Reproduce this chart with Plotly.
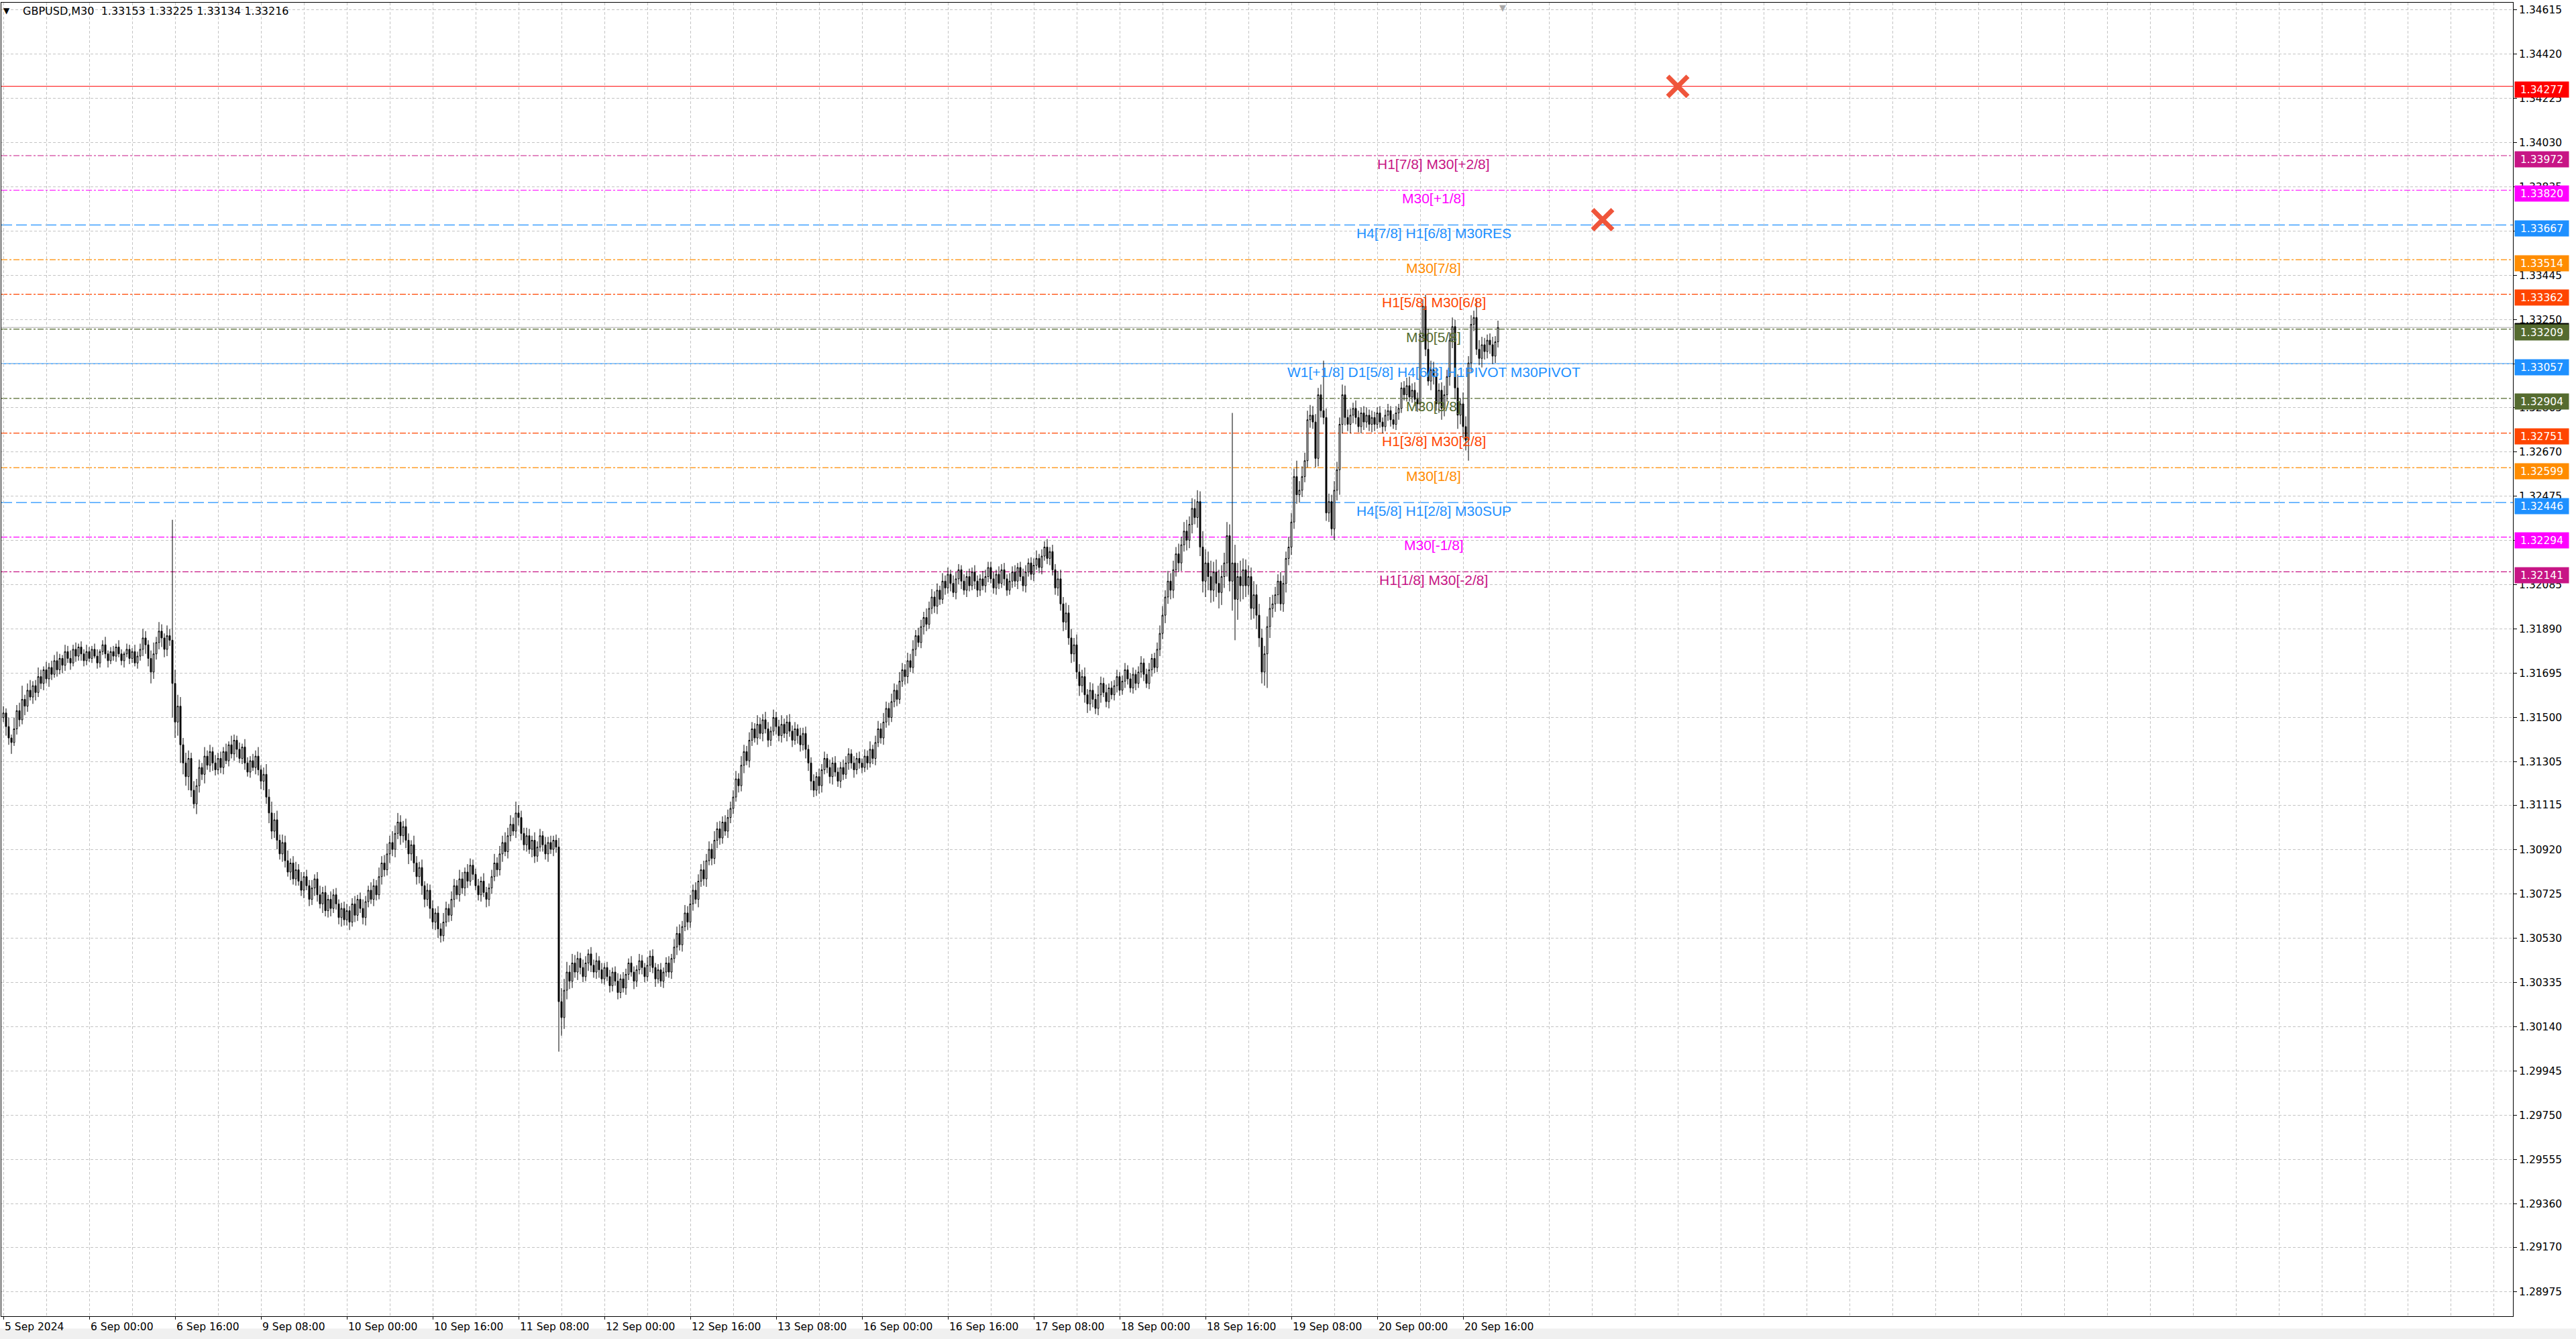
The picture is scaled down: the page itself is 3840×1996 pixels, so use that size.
import plotly.graph_objects as go

symbol = "GBPUSD,M30"
last_ohlc = [1.33153, 1.33225, 1.33134, 1.33216]

time_labels = ["5 Sep 2024", "6 Sep 00:00", "6 Sep 16:00", "9 Sep 08:00", "10 Sep 00:00",
               "10 Sep 16:00", "11 Sep 08:00", "12 Sep 00:00", "12 Sep 16:00", "13 Sep 08:00",
               "16 Sep 00:00", "16 Sep 16:00", "17 Sep 08:00", "18 Sep 00:00", "18 Sep 16:00",
               "19 Sep 08:00", "20 Sep 00:00", "20 Sep 16:00"]

price_ticks = [1.34615, 1.34420, 1.34225, 1.34030, 1.33835, 1.33640, 1.33445, 1.33250, 1.33055,
               1.32865, 1.32670, 1.32475, 1.32280, 1.32085, 1.31890, 1.31695, 1.31500, 1.31305,
               1.31115, 1.30920, 1.30725, 1.30530, 1.30335, 1.30140, 1.29945, 1.29750, 1.29555,
               1.29360, 1.29170, 1.28975]

level_prices = [1.33972, 1.33820, 1.33667, 1.33514, 1.33362, 1.33209, 1.33057,
                1.32904, 1.32751, 1.32599, 1.32446, 1.32294, 1.32141]
level_names = ["H1[7/8] M30[+2/8]", "M30[+1/8]", "H4[7/8] H1[6/8] M30RES", "M30[7/8]",
               "H1[5/8] M30[6/8]", "M30[5/8]", "W1[+1/8] D1[5/8] H4[6/8] H1PIVOT M30PIVOT",
               "M30[3/8]", "H1[3/8] M30[2/8]", "M30[1/8]", "H4[5/8] H1[2/8] M30SUP",
               "M30[-1/8]", "H1[1/8] M30[-2/8]"]
level_colors = ["#C71585", "#FF00FF", "#1E90FF", "#FF8C00", "#FF4500", "#556B2F", "#1E90FF",
                "#556B2F", "#FF4500", "#FF8C00", "#1E90FF", "#FF00FF", "#C71585"]
level_styles = ["dashdot", "dashdot", "dash", "dashdot", "dashdot", "dashdot", "solid",
                "dashdot", "dashdot", "dashdot", "dash", "dashdot", "dashdot"]

target_price = 1.34277
cross_bars = [624, 596]
cross_prices = [1.34277, 1.33690]
label_bar = 533

first_open_pts = 131500

# closes, in points (1e-5), one row per day
close_sep05 = [131520, 131460, 131410, 131390, 131450, 131530, 131490, 131580, 131550, 131620, 131590, 131640,
               131610, 131680, 131650, 131710, 131670, 131720, 131690, 131750, 131710, 131760, 131730, 131790,
               131760, 131740, 131800, 131770, 131810, 131780, 131750, 131790]
close_sep06 = [131760, 131800, 131770, 131740, 131790, 131820, 131780, 131750, 131790, 131770, 131810, 131780,
               131750, 131780, 131800, 131760, 131790, 131740, 131770, 131800,
               131850, 131820, 131760, 131700, 131780, 131830, 131880, 131850, 131800, 131860, 131840,
               131650,
               131480, 131550, 131380, 131300, 131240, 131320, 131180, 131120, 131200, 131280, 131250, 131330,
               131290, 131350, 131300, 131270]
close_sep09 = [131320, 131280, 131350, 131310, 131380, 131340, 131400, 131360, 131320, 131370, 131300, 131260,
               131310, 131280, 131330, 131270, 131220, 131250,
               131150, 131080, 131000, 131050, 130960, 130900, 130950, 130870, 130820, 130860, 130790, 130830, 130780,
               130740, 130800, 130760, 130700, 130750, 130790, 130720, 130680, 130730, 130650, 130700, 130660,
               130720, 130680, 130620, 130660, 130610]
close_sep10 = [130650, 130600, 130680, 130630, 130700, 130660, 130620, 130690, 130740, 130700, 130760, 130720,
               130800, 130860, 130830, 130900, 130950, 130920, 130990, 131040, 130980, 131020, 130960, 130900,
               130940, 130860, 130800, 130840, 130760, 130700, 130740, 130660, 130600, 130640, 130570, 130540,
               130600, 130660, 130630, 130700, 130760, 130720, 130790, 130750, 130820, 130780, 130850, 130810]
close_sep11 = [130760, 130720, 130780, 130730, 130700, 130750, 130800, 130860, 130830, 130900, 130950, 130910,
               130980, 131030, 131000, 131080, 131060, 130990, 130940, 130980, 130920, 130960, 130890, 130930,
               130980, 130940, 130900, 130950, 130920, 130960, 130930,
               130250,
               130180, 130300, 130380, 130340, 130420, 130380, 130440, 130400, 130360, 130420, 130460, 130410,
               130380, 130430, 130390, 130350]
close_sep12 = [130400, 130360, 130320, 130380, 130340, 130290, 130350, 130310, 130370, 130420, 130380, 130340,
               130390, 130430, 130400, 130360, 130410, 130450, 130400, 130350, 130390, 130340, 130380, 130420,
               130380, 130440, 130490,
               130550, 130500, 130580, 130640, 130600, 130680, 130740, 130700, 130780, 130830, 130790, 130870,
               130920, 130880, 130960, 131010, 130970, 131040, 131000, 131060, 131100]
close_sep13 = [131150, 131230, 131200, 131290, 131350, 131310, 131400, 131450, 131410, 131470,
               131430, 131490, 131450, 131400, 131440, 131500, 131460, 131420, 131470, 131430, 131480, 131440,
               131400, 131450, 131420, 131380, 131430, 131360, 131300,
               131220, 131180, 131240, 131200, 131270, 131320, 131280, 131240, 131300, 131260, 131220, 131280,
               131250, 131300, 131340, 131300, 131270, 131320, 131300]
close_sep16 = [131280, 131330, 131300, 131360, 131320, 131390, 131450, 131410, 131480, 131540, 131500, 131570,
               131620, 131580, 131660, 131710, 131680, 131750, 131720, 131800, 131860, 131830, 131900, 131940,
               131910, 131980, 132030,
               131990, 132060, 132020, 132100, 132070, 132130, 132090, 132050, 132110, 132150, 132100, 132060,
               132120, 132080, 132140, 132100, 132060, 132110, 132080]
close_sep17 = [132120, 132160, 132110, 132070, 132130, 132090, 132150, 132110, 132060, 132100, 132140, 132100,
               132160, 132120, 132080, 132140, 132180, 132130, 132170, 132200, 132160, 132210, 132250, 132200,
               132230, 132150, 132070, 132110, 132000, 131920, 131960, 131850, 131780, 131820, 131700, 131640,
               131680, 131600, 131560, 131620, 131580, 131540, 131600, 131650, 131610, 131570, 131630, 131600]
close_sep18 = [131640, 131680, 131620, 131660, 131710, 131670, 131630, 131690, 131650, 131700, 131740, 131690,
               131650, 131710, 131760, 131720, 131800, 131870, 131950, 132030, 132100, 132060, 132150, 132220,
               132180, 132260, 132320, 132280, 132350, 132420, 132380, 132450, 132250, 132100, 132180, 132120,
               132060, 132140, 132090, 132050, 132120, 132180,
               132300,
               132100, 132180, 132020, 132120, 132080]
close_sep19 = [132150, 132080, 132120, 131980, 132040, 131950, 131850, 131700, 131780, 131900, 131980, 132000,
               132040, 132100, 132000, 132090, 132200, 132250, 132360, 132560, 132480, 132500, 132560, 132630,
               132810, 132830, 132800, 132640, 132920, 132850, 132820, 132400, 132450, 132330, 132500, 132590,
               132790, 132920, 132820, 132790, 132830, 132860, 132820, 132780, 132840, 132800, 132830, 132790]
close_sep20 = [132820, 132790, 132840, 132800, 132780, 132830, 132850, 132810, 132790, 132840, 132860,
               132950, 132920, 132960, 132910, 132940, 132900, 132880,
               133180, 133310, 133120, 132980, 133030, 133000, 132880, 132940, 132860, 132920, 133000, 133160,
               133220, 132950, 132830, 132880, 132780, 132720, 133060, 133230, 133260, 133120, 133080, 133140,
               133110, 133160, 133140, 133090, 133153, 133216]

# upper / lower wick lengths in points
wick_up_sep05 = [30, 20, 40, 15, 50, 25, 35, 60, 20, 30, 45, 20, 25, 40, 30, 15, 35, 20, 30, 25, 40, 20, 15, 30,
                 25, 35, 20, 30, 15, 25, 20, 30]
wick_dn_sep05 = [20, 40, 30, 50, 15, 25, 30, 20, 40, 25, 15, 30, 35, 20, 25, 30, 20, 35, 25, 15, 30, 20, 35, 25,
                 20, 30, 15, 25, 20, 30, 25, 20]
wick_up_sep06 = [20, 15, 25, 30, 10, 20, 35, 15, 20, 25, 15, 30, 20, 10, 25, 20, 15, 30, 20, 25, 40, 30, 20, 35,
                 50, 25, 40, 30, 20, 45, 30, 530, 60, 50, 40, 30, 45, 35, 25, 40, 30, 35, 20, 40, 25, 30, 20, 35]
wick_dn_sep06 = [15, 20, 10, 25, 20, 15, 20, 30, 15, 20, 25, 15, 20, 30, 15, 25, 20, 15, 25, 20, 30, 40, 35, 50,
                 30, 25, 30, 40, 35, 30, 25, 150, 70, 60, 80, 50, 40, 60, 30, 20, 45, 30, 25, 40, 20, 30, 35, 25]
wick_up_sep09 = [25, 30, 20, 35, 15, 40, 25, 20, 30, 15, 35, 25, 20, 30, 25, 40, 20, 30, 45, 35, 50, 30, 40, 25,
                 35, 30, 45, 20, 30, 35, 25, 40, 20, 30, 25, 35, 20, 30, 40, 25, 30, 20, 35, 25, 30, 20, 25, 30]
wick_dn_sep09 = [20, 25, 30, 15, 25, 20, 30, 35, 20, 25, 30, 20, 25, 15, 30, 25, 35, 40, 30, 45, 35, 30, 40, 25,
                 35, 30, 20, 35, 25, 30, 20, 25, 35, 20, 30, 25, 35, 30, 20, 40, 25, 30, 35, 20, 25, 30, 40, 25]
wick_up_sep10 = [30, 20, 25, 35, 20, 30, 40, 25, 20, 35, 30, 25, 40, 30, 35, 45, 30, 50, 35, 40, 30, 25, 35, 30,
                 20, 40, 30, 25, 35, 20, 30, 25, 35, 20, 30, 25, 40, 30, 20, 35, 30, 25, 40, 30, 20, 35, 30, 25]
wick_dn_sep10 = [25, 35, 20, 30, 25, 20, 30, 35, 25, 20, 30, 25, 20, 35, 30, 25, 40, 30, 35, 25, 40, 30, 35, 45,
                 30, 40, 35, 30, 40, 35, 30, 45, 30, 35, 40, 30, 25, 20, 30, 25, 35, 20, 30, 25, 35, 30, 20, 25]
wick_up_sep11 = [25, 30, 20, 35, 25, 20, 30, 40, 25, 35, 30, 45, 35, 40, 30, 50, 35, 30, 25, 35, 30, 20, 35, 25,
                 30, 20, 35, 25, 30, 20, 25, 40, 60, 50, 45, 30, 40, 35, 30, 25, 35, 30, 20, 30, 25, 35, 20, 30]
wick_dn_sep11 = [20, 25, 30, 20, 35, 30, 25, 20, 30, 25, 35, 20, 30, 25, 20, 30, 35, 30, 25, 30, 20, 35, 30, 25,
                 20, 30, 25, 35, 20, 30, 25, 220, 80, 50, 40, 35, 30, 25, 35, 30, 25, 20, 35, 30, 25, 30, 35, 20]
wick_up_sep12 = [20, 25, 30, 20, 25, 35, 20, 30, 25, 20, 30, 25, 20, 30, 25, 20, 35, 25, 30, 20, 25, 30, 20, 25,
                 30, 20, 35, 30, 40, 25, 35, 30, 40, 25, 35, 30, 25, 40, 30, 35, 25, 40, 30, 35, 25, 30, 35, 30]
wick_dn_sep12 = [25, 20, 30, 25, 20, 30, 25, 20, 30, 25, 20, 35, 25, 20, 30, 25, 20, 30, 25, 35, 20, 25, 30, 20,
                 25, 30, 20, 35, 25, 30, 20, 35, 25, 30, 20, 35, 25, 30, 35, 20, 30, 25, 35, 30, 25, 20, 30, 25]
wick_up_sep13 = [30, 35, 25, 40, 30, 25, 35, 30, 25, 40, 30, 25, 35, 30, 20, 35, 25, 30, 40, 25, 30, 35, 25, 30,
                 20, 35, 25, 30, 20, 25, 30, 20, 35, 25, 30, 20, 35, 25, 30, 20, 25, 35, 30, 25, 20, 30, 25, 30]
wick_dn_sep13 = [25, 20, 30, 25, 35, 20, 30, 25, 20, 30, 25, 35, 20, 30, 25, 20, 35, 25, 30, 20, 35, 25, 30, 20,
                 35, 30, 25, 40, 35, 40, 30, 25, 35, 30, 20, 25, 30, 35, 20, 25, 30, 25, 20, 30, 25, 35, 20, 25]
wick_up_sep16 = [20, 30, 25, 35, 20, 30, 35, 25, 40, 30, 25, 35, 30, 25, 40, 30, 25, 35, 30, 40, 25, 35, 30, 25,
                 40, 30, 35, 25, 30, 20, 35, 25, 30, 20, 35, 30, 25, 20, 30, 25, 35, 20, 30, 25, 20, 35, 30, 25]
wick_dn_sep16 = [25, 20, 30, 20, 25, 30, 20, 25, 30, 25, 35, 20, 25, 30, 20, 25, 35, 30, 20, 25, 30, 20, 25, 35,
                 30, 20, 25, 30, 35, 25, 20, 30, 25, 35, 20, 30, 25, 35, 20, 30, 25, 20, 35, 30, 25, 20, 30, 25]
wick_up_sep17 = [25, 30, 20, 35, 25, 30, 20, 35, 25, 30, 20, 25, 35, 30, 20, 25, 30, 35, 20, 30, 25, 35, 20, 30,
                 25, 35, 40, 30, 45, 35, 40, 30, 45, 35, 30, 40, 25, 35, 30, 25, 40, 30, 25, 35, 20, 30, 25, 30]
wick_dn_sep17 = [20, 25, 30, 25, 20, 30, 25, 20, 30, 25, 35, 20, 25, 30, 20, 25, 30, 20, 25, 30, 20, 25, 30, 25,
                 30, 35, 30, 40, 35, 30, 40, 35, 30, 45, 30, 35, 40, 30, 35, 25, 30, 35, 20, 25, 30, 20, 25, 30]
wick_up_sep18 = [20, 25, 30, 20, 25, 30, 20, 25, 30, 20, 25, 30, 20, 25, 30, 35, 40, 30, 45, 35, 40, 30, 45, 35,
                 40, 50, 35, 45, 40, 50, 45, 70, 60, 50, 70, 45, 55, 60, 50, 45, 60, 50, 660, 80, 60, 70, 50, 45]
wick_dn_sep18 = [25, 20, 30, 25, 20, 25, 30, 20, 25, 30, 20, 25, 30, 25, 20, 30, 25, 35, 30, 40, 35, 30, 40, 35,
                 30, 45, 35, 40, 30, 45, 40, 50, 70, 60, 55, 50, 60, 70, 55, 50, 60, 45, 130, 180, 90, 70, 60, 50]
wick_up_sep19 = [50, 40, 60, 45, 50, 40, 35, 45, 50, 40, 35, 30, 40, 35, 30, 45, 40, 35, 70, 40, 45, 35, 40, 45,
                 40, 35, 30, 45, 220, 40, 35, 30, 40, 35, 30, 45, 40, 35, 30, 25, 35, 30, 25, 30, 35, 25, 30, 25]
wick_dn_sep19 = [40, 50, 45, 60, 40, 50, 60, 150, 50, 40, 35, 40, 30, 35, 40, 30, 35, 30, 40, 35, 30, 25, 30, 35,
                 30, 40, 35, 30, 30, 35, 40, 30, 50, 45, 110, 40, 35, 30, 40, 35, 30, 25, 30, 35, 25, 30, 35, 30]
wick_up_sep20 = [25, 30, 20, 25, 30, 20, 25, 30, 20, 25, 30, 35, 40, 30, 35, 30, 25, 30, 50, 90, 40, 35, 40, 30,
                 35, 40, 30, 35, 40, 30, 60, 25, 50, 45, 30, 40, 30, 80, 40, 35, 30, 25, 30, 35, 25, 30, 20, 9]
wick_dn_sep20 = [20, 25, 30, 20, 25, 30, 20, 25, 30, 20, 25, 30, 20, 25, 30, 35, 30, 25, 30, 20, 40, 35, 30, 40,
                 50, 35, 30, 40, 35, 50, 60, 40, 50, 45, 90, 40, 30, 25, 30, 40, 35, 30, 40, 35, 30, 25, 20, 19]

close_days = [close_sep05, close_sep06, close_sep09, close_sep10, close_sep11, close_sep12, close_sep13,
              close_sep16, close_sep17, close_sep18, close_sep19, close_sep20]
wup_days = [wick_up_sep05, wick_up_sep06, wick_up_sep09, wick_up_sep10, wick_up_sep11, wick_up_sep12,
            wick_up_sep13, wick_up_sep16, wick_up_sep17, wick_up_sep18, wick_up_sep19, wick_up_sep20]
wdn_days = [wick_dn_sep05, wick_dn_sep06, wick_dn_sep09, wick_dn_sep10, wick_dn_sep11, wick_dn_sep12,
            wick_dn_sep13, wick_dn_sep16, wick_dn_sep17, wick_dn_sep18, wick_dn_sep19, wick_dn_sep20]

close_pts = [v for d in close_days for v in d]
wup = [v for d in wup_days for v in d]
wdn = [v for d in wdn_days for v in d]
open_pts = [first_open_pts] + close_pts[:-1]
n = len(close_pts)
opens = [v / 1e5 for v in open_pts]
closes = [v / 1e5 for v in close_pts]
highs = [(max(o, c) + u) / 1e5 for o, c, u in zip(open_pts, close_pts, wup)]
lows = [(min(o, c) - d) / 1e5 for o, c, d in zip(open_pts, close_pts, wdn)]
bars = list(range(n))

fig = go.Figure()
fig.add_trace(go.Candlestick(
    x=bars, open=opens, high=highs, low=lows, close=closes,
    increasing=dict(line=dict(color="black", width=1), fillcolor="white"),
    decreasing=dict(line=dict(color="black", width=1), fillcolor="black"),
    whiskerwidth=0, showlegend=False, hoverinfo="skip"))

fig.add_trace(go.Scatter(
    x=cross_bars, y=cross_prices, mode="markers", showlegend=False, hoverinfo="skip",
    marker=dict(symbol="x-thin-open", size=30, line=dict(width=7, color="#F4444A"))))

dash_map = {"dashdot": "9px,3px,3px,3px", "dash": "16px,6px", "solid": "solid"}
shapes = []
shapes.append(dict(type="line", xref="paper", x0=0, x1=1, yref="y", y0=last_ohlc[3], y1=last_ohlc[3],
                   line=dict(color="#A8A8A8", width=1), layer="below"))
shapes.append(dict(type="line", xref="paper", x0=0, x1=1, yref="y", y0=target_price, y1=target_price,
                   line=dict(color="#FF0000", width=1), layer="below"))
for p, c, s in zip(level_prices, level_colors, level_styles):
    shapes.append(dict(type="line", xref="paper", x0=0, x1=1, yref="y", y0=p, y1=p,
                       line=dict(color=c, width=1.2, dash=dash_map[s]), layer="below"))
shapes.append(dict(type="rect", xref="paper", x0=-0.001, x1=1.03, yref="paper", y0=-0.0175, y1=-0.0095,
                   fillcolor="#F0F0F0", line=dict(width=0), layer="below"))

annotations = []
for p, name, c in zip(level_prices, level_names, level_colors):
    annotations.append(dict(x=label_bar, y=p, xref="x", yref="y", text=name, showarrow=False,
                            xanchor="center", yanchor="middle", yshift=-12,
                            font=dict(family="Liberation Sans, Arial", size=21, color=c)))

box_font = dict(family="DejaVu Sans", size=15.5, color="white")
box_items = [(target_price, "#FF0000")] + list(zip(level_prices[:5], level_colors[:5])) + \
            [(last_ohlc[3], "#000000")] + list(zip(level_prices[5:], level_colors[5:]))
for p, c in box_items:
    annotations.append(dict(xref="paper", x=1, xanchor="left", xshift=2, yref="y", y=p, yshift=-5,
                            text=f"{p:.5f}", showarrow=False, bgcolor=c, width=80, height=23,
                            borderpad=0, align="center", font=box_font))

for k, lab in enumerate(time_labels):
    annotations.append(dict(x=32 * k, xref="x", y=0, yref="paper", yanchor="middle", yshift=-16,
                            xanchor="left", xshift=0, text=lab, showarrow=False,
                            font=dict(family="DejaVu Sans", size=15.5, color="black")))

annotations.append(dict(xref="paper", x=0, xanchor="left", xshift=1, yref="paper", y=1,
                        yanchor="middle", yshift=-12, text="▼", showarrow=False,
                        font=dict(family="DejaVu Sans", size=12, color="black")))
annotations.append(dict(xref="paper", x=0, xanchor="left", xshift=30, yref="paper", y=1,
                        yanchor="middle", yshift=-12,
                        text=symbol + "\u00a0\u00a0" + " ".join(f"{v:.5f}" for v in last_ohlc),
                        showarrow=False, font=dict(family="DejaVu Sans", size=16, color="black")))
annotations.append(dict(x=n + 0.75, xref="x", y=1, yref="paper", yanchor="top", yshift=2,
                        text="▼", showarrow=False, font=dict(family="DejaVu Sans", size=13, color="#A8A8A8")))

grid_col = "#C4C4C4"
fig.update_layout(
    width=3840, height=1996, autosize=False,
    margin=dict(l=2, r=94, t=4, b=34, pad=0),
    paper_bgcolor="white", plot_bgcolor="white",
    shapes=shapes, annotations=annotations, showlegend=False,
    xaxis=dict(range=[-0.75, 935.25], tickmode="array", tickvals=[32 * k for k in range(len(time_labels))],
               showticklabels=False, ticks="outside", ticklen=4, tickcolor="black",
               showgrid=True, gridcolor=grid_col, griddash="4px,3px", gridwidth=1,
               minor=dict(tickmode="array", tickvals=list(range(0, 936, 16)), showgrid=True,
                          gridcolor=grid_col, griddash="4px,3px", gridwidth=1, ticks=""),
               showline=True, linecolor="black", linewidth=1, mirror=True, zeroline=False,
               rangeslider=dict(visible=False), fixedrange=True),
    yaxis=dict(range=[1.28866, 1.34645], side="right", tickmode="array", tickvals=price_ticks,
               ticktext=[f"{v:.5f}" for v in price_ticks], ticks="outside", ticklen=5, tickcolor="black",
               tickfont=dict(family="DejaVu Sans", size=15.5, color="black"),
               showgrid=True, gridcolor=grid_col, griddash="4px,3px", gridwidth=1,
               showline=True, linecolor="black", linewidth=1, mirror=True, zeroline=False, fixedrange=True),
)

fig.write_html("out.html", config={"displayModeBar": False},
               post_script="document.body.style.margin='0px';")
